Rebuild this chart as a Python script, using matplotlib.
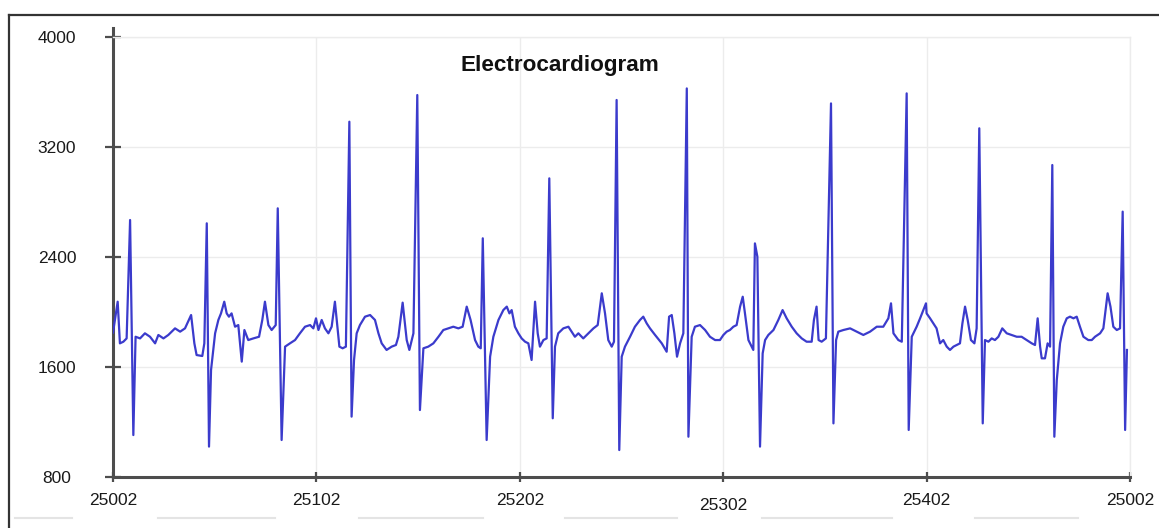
import matplotlib
matplotlib.use("Agg")
import matplotlib.pyplot as plt
from matplotlib.lines import Line2D

# ---- data (sample index, ECG amplitude) ----
samples = [
    25002.0, 25004.3, 25005.4, 25007.1, 25008.7, 25010.4, 25012.0, 25013.1, 25015.3, 25017.7,
    25020.2, 25022.7, 25024.3, 25026.8, 25029.2, 25032.5, 25035.0, 25037.4, 25040.4, 25042.0,
    25043.1, 25045.9, 25046.9, 25048.1, 25049.2, 25050.2, 25052.2, 25053.8, 25055.1, 25056.7,
    25057.9, 25059.0, 25060.3, 25062.0, 25063.6, 25065.3, 25066.6, 25068.5, 25071.0, 25073.8,
    25075.4, 25076.7, 25078.4, 25080.0, 25082.0, 25083.0, 25084.9, 25086.6, 25089.0, 25091.5,
    25093.9, 25096.4,
    25098.9, 25100.5, 25101.8, 25103.0, 25104.6, 25106.2, 25107.9, 25109.5, 25111.1, 25112.3,
    25113.3, 25114.9, 25116.5, 25118.2, 25119.3, 25120.5, 25121.8, 25123.4, 25125.9, 25128.4,
    25130.8, 25132.5, 25134.1, 25136.5, 25139.0, 25141.1, 25142.3, 25144.4, 25146.4, 25147.7,
    25149.7, 25151.6, 25152.9, 25154.6, 25157.0, 25159.5, 25162.0, 25164.4, 25166.9, 25169.3,
    25171.8, 25173.9, 25175.9, 25177.8, 25180.0, 25181.6, 25182.8, 25183.8, 25185.7, 25187.4,
    25189.0, 25191.5, 25193.9, 25195.6, 25196.9, 25198.0,
    25199.6, 25201.3, 25202.9, 25204.6, 25206.2, 25207.8, 25209.5, 25210.8, 25211.9, 25213.6,
    25215.2, 25216.5, 25218.2, 25219.3, 25220.9, 25223.4, 25225.9, 25227.5, 25229.1, 25230.8,
    25233.2, 25235.7, 25238.2, 25240.3, 25242.3, 25243.9, 25245.5, 25247.2, 25248.3, 25249.6,
    25250.9, 25252.1, 25253.7, 25256.2, 25258.6, 25261.1, 25262.7, 25264.4, 25266.0, 25268.5,
    25271.8, 25274.2, 25275.4, 25276.7, 25278.0, 25279.3, 25280.8, 25282.4, 25284.1, 25284.9,
    25286.5, 25288.1, 25290.6, 25293.1, 25295.5, 25298.0,
    25300.4, 25302.1, 25303.7, 25305.3, 25307.0, 25308.6, 25310.3, 25311.6, 25312.7, 25314.4,
    25316.0, 25316.8, 25317.6, 25318.8, 25320.1, 25321.4, 25322.6, 25324.2, 25326.7, 25329.1,
    25331.2, 25333.2, 25335.7, 25338.1, 25340.6, 25343.0, 25345.5, 25346.6, 25347.9, 25348.9,
    25350.4, 25352.5, 25355.0, 25356.2, 25357.5, 25358.6, 25361.1, 25364.4, 25367.6, 25370.9,
    25374.2, 25377.5, 25380.7, 25383.2, 25384.5, 25385.7, 25388.1, 25389.8, 25392.2, 25393.2,
    25394.7, 25397.1, 25398.8, 25400.4, 25401.7,
    25402.0, 25403.7, 25405.3, 25406.9, 25408.6, 25410.2, 25411.9, 25413.5, 25415.2, 25416.8,
    25418.4, 25419.6, 25420.9, 25422.2, 25423.8, 25425.5, 25426.6, 25427.9, 25429.6, 25430.7,
    25432.4, 25434.0, 25435.6, 25437.3, 25439.2, 25441.4, 25443.8, 25446.3, 25448.7, 25451.2,
    25453.7, 25455.3, 25456.6, 25457.8, 25458.6, 25460.2, 25461.5, 25462.7, 25463.8, 25464.8,
    25466.0, 25467.6, 25469.2, 25470.9, 25472.5, 25474.2, 25475.8, 25477.4, 25479.1, 25481.5,
    25483.2, 25484.8, 25487.3, 25488.9, 25491.0, 25492.4, 25493.8, 25495.5, 25497.1, 25498.4,
    25499.6, 25500.5,
]
amplitude = [
    1850, 2075, 1772, 1784, 1808, 2669, 1105, 1820, 1808, 1845,
    1820, 1772, 1833, 1808, 1833, 1881, 1857, 1881, 1978, 1772,
    1687, 1680, 1772, 2645, 1021, 1578, 1845, 1942, 1990, 2075,
    1990, 1966, 1990, 1893, 1905, 1639, 1869, 1796, 1808, 1820,
    1942, 2075, 1905, 1869, 1905, 2754, 1069, 1748, 1772, 1796,
    1845, 1893,
    1905, 1881, 1954, 1869, 1942, 1881, 1845, 1893, 2075, 1893,
    1748, 1736, 1748, 3384, 1239, 1651, 1845, 1905, 1966, 1978,
    1942, 1845, 1772, 1724, 1748, 1760, 1820, 2068, 1796, 1724,
    1845, 3578, 1287, 1736, 1748, 1772, 1820, 1869, 1881, 1893,
    1881, 1893, 2039, 1942, 1796, 1748, 1736, 2536, 1069, 1675,
    1820, 1942, 2014, 2039, 1990, 2014,
    1893, 1845, 1808, 1784, 1772, 1651, 2075, 1845, 1748, 1796,
    1808, 2972, 1227, 1748, 1845, 1881, 1893, 1857, 1820, 1845,
    1808, 1845, 1881, 1905, 2136, 1990, 1796, 1748, 1784, 3542,
    996, 1675, 1748, 1820, 1893, 1942, 1966, 1917, 1881, 1833,
    1772, 1711, 1966, 1978, 1845, 1675, 1772, 1845, 3626, 1093,
    1820, 1893, 1905, 1869, 1820, 1796,
    1796, 1833, 1857, 1869, 1893, 1905, 2039, 2111, 1990, 1796,
    1748, 1724, 2499, 2402, 1021, 1699, 1796, 1833, 1869, 1942,
    2014, 1954, 1893, 1845, 1808, 1784, 1784, 1942, 2039, 1796,
    1784, 1808, 3517, 1190, 1796, 1857, 1869, 1881, 1857, 1833,
    1857, 1893, 1893, 1954, 2063, 1845, 1796, 1784, 3590, 1142,
    1820, 1893, 1954, 2014, 2063,
    1990, 1954, 1917, 1881, 1772, 1796, 1748, 1724, 1748, 1760,
    1772, 1917, 2039, 1942, 1796, 1772, 1881, 3336, 1190, 1796,
    1784, 1808, 1796, 1820, 1881, 1845, 1833, 1820, 1820, 1796,
    1772, 1760, 1954, 1748, 1663, 1663, 1772, 1748, 3069, 1093,
    1505, 1772, 1893, 1954, 1966, 1954, 1966, 1893, 1820, 1796,
    1796, 1820, 1845, 1881, 2136, 2039, 1893, 1869, 1881, 2730,
    1142, 1724,
]
x_ticks = [25002, 25102, 25202, 25302, 25402, 25502]
x_tick_labels = ["25002", "25102", "25202", "25302", "25402", "25002"]
y_ticks = [800, 1600, 2400, 3200, 4000]
y_tick_labels = ["800", "1600", "2400", "3200", "4000"]
chart_title = "Electrocardiogram"

plt.rcParams['font.family'] = ['Liberation Sans', 'DejaVu Sans']

W, H = 1159, 528
fig = plt.figure(figsize=(W / 100, H / 100), dpi=100)
fig.patch.set_facecolor('white')

ax = fig.add_axes([113 / W, 51 / H, 1017 / W, 440 / H])
ax.plot(samples, amplitude, color='#3b3bcc', lw=1.6, zorder=3)

ax.set_xlim(25002, 25502)
ax.set_ylim(800, 4000)
ax.set_xticks(x_ticks)
ax.set_xticklabels(x_tick_labels)
ax.set_yticks(y_ticks)
ax.set_yticklabels(y_tick_labels, ha='center')

ax.grid(True, color='#ececec', lw=1.0, zorder=0)
ax.set_axisbelow(True)

spine_col = '#4d4d4d'
for side in ('top', 'right'):
    ax.spines[side].set_color('#ececec')
    ax.spines[side].set_linewidth(1.0)
for side in ('left', 'bottom'):
    ax.spines[side].set_color(spine_col)
    ax.spines[side].set_linewidth(2.2)
ax.spines['left'].set_bounds(800, 4065)

ax.tick_params(axis='y', direction='inout', length=11, width=1.6, color=spine_col,
               labelsize=12.5, labelcolor='#1a1a1a', pad=34.8)
ax.tick_params(axis='x', direction='inout', length=7, width=1.6, color=spine_col,
               labelsize=12.5, labelcolor='#1a1a1a', pad=7.8)
xt = ax.xaxis.get_major_ticks()
xt[3].set_pad(11.8)

fig.text(560 / W, 1 - 71 / H, chart_title, ha='center', va='baseline',
         fontsize=16.2, fontweight='bold', color='#111111')

# outer frame
fig.add_artist(Line2D([9 / W, 9 / W], [0, 1 - 15 / H], transform=fig.transFigure,
                      color='#333333', lw=1.6))
fig.add_artist(Line2D([9 / W, 1], [1 - 15 / H, 1 - 15 / H], transform=fig.transFigure,
                      color='#333333', lw=1.6))

# faint separators below the tick labels
for a, b in [(15, 72), (158, 275), (359, 483), (565, 677), (762, 892), (975, 1078)]:
    fig.add_artist(Line2D([a / W, b / W], [1 - 518 / H, 1 - 518 / H],
                          transform=fig.transFigure, color='#e4e4e4', lw=1.5))

fig.savefig('out.png', dpi=100, facecolor='white')
